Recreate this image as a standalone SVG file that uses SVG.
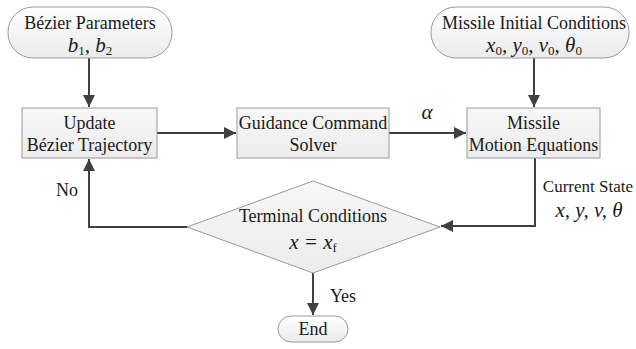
<svg xmlns="http://www.w3.org/2000/svg" width="636" height="349" viewBox="0 0 636 349" font-family="Liberation Serif, Times New Roman, DejaVu Serif, serif">
<style>
text{font-size:18px;fill:#1a1a1a}
.m{font-style:italic;font-size:21px}
.s{font-size:13px;font-style:normal}
.box{fill:url(#gb);stroke:#9a9a9a;stroke-width:1}
.term{fill:url(#gt);stroke:#9a9a9a;stroke-width:1}
.ln{fill:none;stroke:#404040;stroke-width:2}
</style>
<defs>
<linearGradient id="gb" x1="0" y1="0" x2="0" y2="1"><stop offset="0" stop-color="#f7f7f7"/><stop offset="1" stop-color="#ececec"/></linearGradient>
<linearGradient id="gt" x1="0" y1="0" x2="0" y2="1"><stop offset="0" stop-color="#ffffff"/><stop offset="1" stop-color="#ebebeb"/></linearGradient>
<marker id="ah" viewBox="0 0 10 10" refX="10" refY="5" markerWidth="6" markerHeight="6" orient="auto" markerUnits="strokeWidth"><path d="M0,0 L10,5 L0,10 z" fill="#404040"/></marker>
</defs>
<g id="connectors">
<path class="ln" d="M89,58 V107" marker-end="url(#ah)"/>
<path class="ln" d="M534,58 V107" marker-end="url(#ah)"/>
<path class="ln" d="M157,133 H236" marker-end="url(#ah)"/>
<path class="ln" d="M389,133 H466" marker-end="url(#ah)"/>
<path class="ln" d="M535,158 V226 H441" marker-end="url(#ah)"/>
<path class="ln" d="M187,227 H89 V159" marker-end="url(#ah)"/>
<path class="ln" d="M313,273 V315" marker-end="url(#ah)"/>
<text x="427" y="119" class="m" text-anchor="middle">α</text>
<text x="633" y="192" text-anchor="end" style="font-size:17px">Current State</text>
<text x="589" y="217" class="m" text-anchor="middle">x, y, v, θ</text>
<text x="67" y="196" text-anchor="middle">No</text>
<text x="343" y="302" text-anchor="middle">Yes</text>
</g>
<g id="bezier-params">
<rect x="8" y="7" width="164" height="51" rx="25" class="term"/>
<text x="90" y="29" text-anchor="middle">Bézier  Parameters</text>
<text x="90" y="52" class="m" text-anchor="middle">b<tspan class="s" dy="3">1</tspan><tspan dy="-3">, b</tspan><tspan class="s" dy="3">2</tspan></text>
</g>
<g id="missile-initial">
<rect x="431" y="7" width="198" height="51" rx="25" class="term"/>
<text x="534" y="29" text-anchor="middle">Missile Initial Conditions</text>
<text x="534" y="52" class="m" text-anchor="middle">x<tspan class="s" dy="3">0</tspan><tspan dy="-3">, y</tspan><tspan class="s" dy="3">0</tspan><tspan dy="-3">, v</tspan><tspan class="s" dy="3">0</tspan><tspan dy="-3">, θ</tspan><tspan class="s" dy="3">0</tspan></text>
</g>
<g id="update">
<rect x="22" y="108" width="135" height="50" class="box"/>
<text x="89.5" y="129" text-anchor="middle">Update</text>
<text x="89.5" y="151" text-anchor="middle">Bézier Trajectory</text>
</g>
<g id="guidance">
<rect x="237" y="108" width="152" height="50" class="box"/>
<text x="313" y="129" text-anchor="middle">Guidance Command</text>
<text x="313" y="151" text-anchor="middle">Solver</text>
</g>
<g id="missile-motion">
<rect x="467" y="108" width="133" height="50" class="box"/>
<text x="533.5" y="129" text-anchor="middle">Missile</text>
<text x="533.5" y="151" text-anchor="middle">Motion Equations</text>
</g>
<g id="terminal">
<polygon points="313,181 440,227 313,273 187,227" class="box"/>
<text x="313" y="222" text-anchor="middle">Terminal Conditions</text>
<text x="313" y="249" class="m" text-anchor="middle">x = x<tspan class="s" dy="3">f</tspan></text>
</g>
<g id="end">
<rect x="278" y="316" width="70" height="26" rx="13" class="term"/>
<text x="313" y="335" text-anchor="middle">End</text>
</g>
</svg>
